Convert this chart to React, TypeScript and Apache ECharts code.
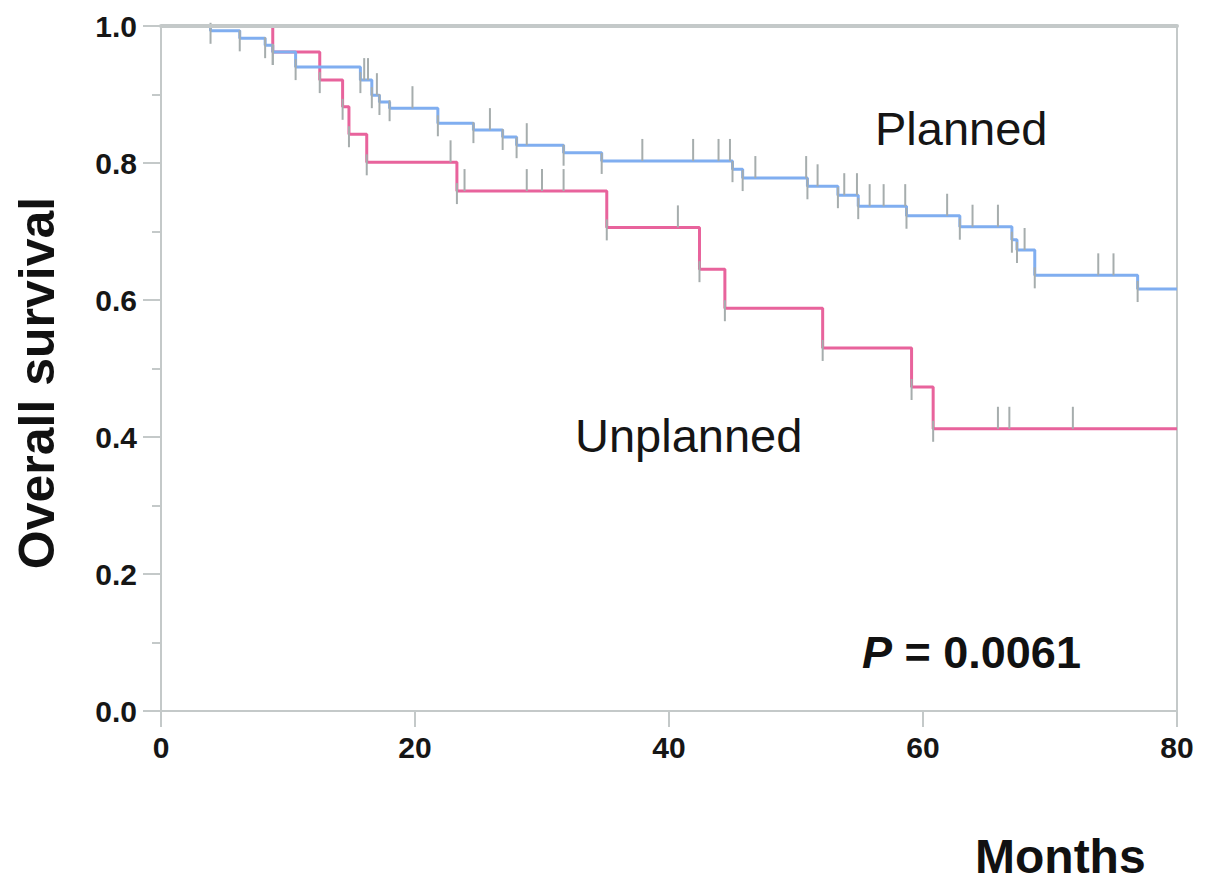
import React, { useEffect, useRef } from "react";
import * as echarts from "echarts";

// Kaplan–Meier event times (months) and survival after each event
const plannedTimes = [3.9, 6.2, 8.2, 8.8, 10.6, 15.7, 16.6, 17.2, 18.0, 21.8, 24.6, 26.9, 28.0, 31.7, 34.7, 45.0, 45.8, 50.9, 53.3, 54.9, 58.7, 62.9, 67.0, 67.4, 68.8, 76.9];
const plannedSurv = [0.993, 0.982, 0.972, 0.962, 0.94, 0.921, 0.899, 0.889, 0.88, 0.858, 0.848, 0.838, 0.826, 0.815, 0.803, 0.791, 0.778, 0.766, 0.753, 0.737, 0.723, 0.707, 0.688, 0.673, 0.636, 0.616];
const plannedCensor = [16.0, 16.3, 17.0, 19.8, 25.9, 28.8, 37.9, 41.9, 43.9, 44.8, 46.8, 50.8, 51.7, 53.8, 54.8, 55.8, 56.9, 58.6, 61.9, 63.9, 65.9, 68.0, 73.8, 75.0];

const unplannedTimes = [8.8, 12.5, 14.3, 14.8, 16.2, 23.3, 35.1, 42.4, 44.4, 52.1, 59.1, 60.8];
const unplannedSurv = [0.962, 0.921, 0.882, 0.842, 0.801, 0.759, 0.706, 0.645, 0.588, 0.53, 0.473, 0.412];
const unplannedCensor = [22.8, 23.9, 28.8, 30.0, 31.7, 40.7, 65.9, 66.8, 71.8];

const xTicks = [0, 20, 40, 60, 80];
const maxMonth = 80;

const BLUE = "#80aef0";
const PINK = "#e8639c";
const TICKGRAY = "#a6adad";
const AXISGRAY = "#c4c9c9";
const FONT = "'Liberation Sans', Arial, Helvetica, sans-serif";

function stepPoints(times: number[], surv: number[]) {
  const pts: number[][] = [[0, 1]];
  let prev = 1;
  times.forEach((t, i) => {
    pts.push([t, prev]);
    pts.push([t, surv[i]]);
    prev = surv[i];
  });
  pts.push([maxMonth, prev]);
  return pts;
}

function survAt(times: number[], surv: number[], t: number) {
  let s = 1;
  times.forEach((tt, i) => {
    if (tt <= t) s = surv[i];
  });
  return s;
}

function censorSeries(times: number[], surv: number[], censor: number[]) {
  return {
    type: "custom",
    silent: true,
    z: 4,
    data: censor.map((t) => [t, survAt(times, surv, t)]),
    renderItem: (_p: any, api: any) => {
      const c = api.coord([api.value(0), api.value(1)]);
      return {
        type: "line",
        shape: { x1: c[0], y1: c[1] - 22, x2: c[0], y2: c[1] },
        style: { stroke: TICKGRAY, lineWidth: 2 },
      };
    },
  };
}

function dropSeries(times: number[], surv: number[]) {
  return {
    type: "custom",
    silent: true,
    z: 4,
    data: times.map((t, i) => [t, surv[i]]),
    renderItem: (_p: any, api: any) => {
      const c = api.coord([api.value(0), api.value(1)]);
      return {
        type: "line",
        shape: { x1: c[0], y1: c[1] - 8, x2: c[0], y2: c[1] + 13 },
        style: { stroke: TICKGRAY, lineWidth: 2 },
      };
    },
  };
}

export default function App() {
  const ref = useRef<HTMLDivElement>(null);
  useEffect(() => {
    if (!ref.current) return;
    const chart = echarts.init(ref.current, undefined, { renderer: "svg" });
    chart.setOption({
      animation: false,
      backgroundColor: "#ffffff",
      grid: {
        left: 161,
        right: 28,
        top: 26,
        bottom: 176,
        show: true,
        borderColor: AXISGRAY,
        borderWidth: 2,
      },
      xAxis: [
        {
          type: "value",
          min: 0,
          max: maxMonth,
          interval: 20,
          axisLine: { show: true, lineStyle: { color: AXISGRAY, width: 2 } },
          axisTick: { show: true, length: 16, lineStyle: { color: AXISGRAY, width: 2 } },
          axisLabel: {
            margin: 21,
            fontSize: 30,
            fontWeight: "bold",
            color: "#161616",
            fontFamily: FONT,
            customValues: xTicks,
          },
          splitLine: { show: false },
        },
        {
          type: "value",
          position: "top",
          min: 0,
          max: maxMonth,
          z: 10,
          axisLine: { show: true, onZero: false, lineStyle: { color: AXISGRAY, width: 4 } },
          axisTick: { show: false },
          axisLabel: { show: false },
          splitLine: { show: false },
        },
      ],
      yAxis: {
        type: "value",
        min: 0,
        max: 1,
        interval: 0.2,
        axisLine: { show: true, lineStyle: { color: AXISGRAY, width: 2 } },
        axisTick: { show: true, length: 18, lineStyle: { color: AXISGRAY, width: 2 } },
        minorTick: { show: true, splitNumber: 2, length: 9, lineStyle: { color: AXISGRAY, width: 2 } },
        axisLabel: {
          margin: 24,
          fontSize: 30,
          fontWeight: "bold",
          color: "#161616",
          fontFamily: FONT,
          formatter: (v: number) => v.toFixed(1),
        },
        splitLine: { show: false },
      },
      series: [
        {
          name: "Unplanned",
          type: "line",
          data: stepPoints(unplannedTimes, unplannedSurv),
          showSymbol: false,
          lineStyle: { color: PINK, width: 3 },
          z: 2,
        },
        {
          name: "Planned",
          type: "line",
          data: stepPoints(plannedTimes, plannedSurv),
          showSymbol: false,
          lineStyle: { color: BLUE, width: 3 },
          z: 3,
        },
        censorSeries(plannedTimes, plannedSurv, plannedCensor),
        censorSeries(unplannedTimes, unplannedSurv, unplannedCensor),
        dropSeries(plannedTimes, plannedSurv),
        dropSeries(unplannedTimes, unplannedSurv),
      ],
      graphic: [
        {
          type: "text",
          x: 875,
          y: 128,
          style: { text: "Planned", fontSize: 47, fontFamily: FONT, fill: "#151515", verticalAlign: "middle" },
        },
        {
          type: "text",
          x: 575,
          y: 435,
          style: { text: "Unplanned", fontSize: 47, fontFamily: FONT, fill: "#151515", verticalAlign: "middle" },
        },
        {
          type: "text",
          x: 862,
          y: 652,
          style: {
            text: "{i|P} = 0.0061",
            fontSize: 45,
            fontWeight: "bold",
            fontFamily: FONT,
            fill: "#111111",
            verticalAlign: "middle",
            rich: { i: { fontStyle: "italic", fontWeight: "bold", fontSize: 45, fontFamily: FONT } },
          },
        },
        {
          type: "text",
          x: 975,
          y: 856,
          style: { text: "Months", fontSize: 48, fontWeight: "bold", fontFamily: FONT, fill: "#111111", verticalAlign: "middle" },
        },
        {
          type: "text",
          x: 37,
          y: 383,
          rotation: Math.PI / 2,
          style: {
            text: "Overall survival",
            fontSize: 50,
            fontWeight: "bold",
            fontFamily: FONT,
            fill: "#111111",
            align: "center",
            verticalAlign: "middle",
          },
        },
      ],
    });
    return () => chart.dispose();
  }, []);
  return (
    <div
      ref={ref}
      style={{ position: "absolute", left: 0, top: 0, width: 1205, height: 887 }}
    />
  );
}
